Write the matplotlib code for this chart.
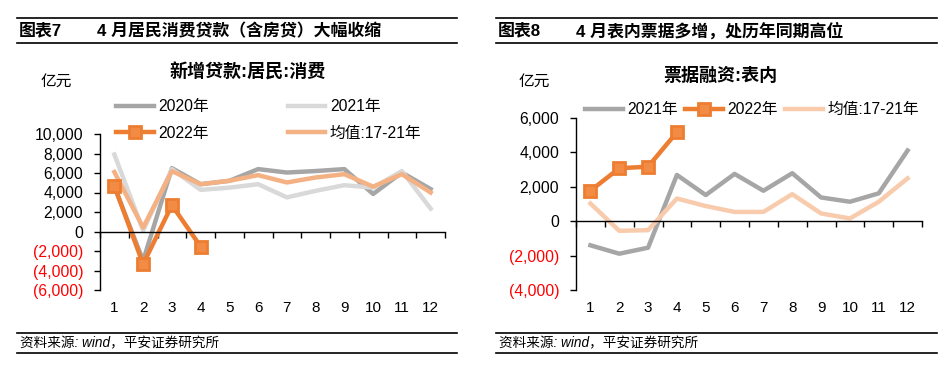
import numpy as np
import matplotlib
matplotlib.use('Agg')
import matplotlib.pyplot as plt
import matplotlib.ticker as ticker
from matplotlib.lines import Line2D

plt.rcParams['font.family'] = ['Liberation Sans', 'Noto Sans CJK SC']
plt.rcParams['axes.unicode_minus'] = False

months = list(range(1, 13))
month_labels = [str(m) for m in months]

# 新增贷款:居民:消费 (亿元)
consumer_2020 = [4600, -3000, 6500, 4850, 5200, 6400, 6050, 6200, 6400, 3850, 6050, 4350]
consumer_2021 = [7900, 100, 6400, 4270, 4500, 4850, 3500, 4170, 4750, 4500, 6200, 2350]
consumer_2022 = [4680, -3350, 2700, -1540]
consumer_avg = [6100, 400, 6200, 4850, 5200, 5780, 5030, 5540, 5880, 4600, 5880, 4000]

# 票据融资:表内 (亿元)
bill_2021 = [-1400, -1890, -1540, 2690, 1520, 2750, 1770, 2790, 1380, 1130, 1620, 4110]
bill_2022 = [1770, 3080, 3170, 5180]
bill_avg = [1030, -560, -520, 1320, 880, 540, 540, 1570, 450, 160, 1130, 2490]

DARK_GRAY = '#A6A6A6'
LIGHT_GRAY = '#D9D9D9'
ORANGE = '#ED7D31'
LIGHT_ORANGE = '#F4B183'
PALE_ORANGE = '#F8CBAD'

W, H = 950, 366
fig = plt.figure(figsize=(W / 100, H / 100), dpi=100)


def fx(px):
    return px / W


def fy(py):
    return 1 - py / H


def fmt(v, pos):
    if v < 0:
        return '({:,.0f})'.format(abs(v))
    return '{:,.0f}'.format(v)


def setup_axes(ax, ylo, yhi):
    ax.set_xlim(0.5, 12.5)
    ax.set_ylim(ylo, yhi)
    ax.yaxis.set_major_locator(ticker.MultipleLocator(2000))
    ax.yaxis.set_major_formatter(ticker.FuncFormatter(fmt))
    for s in ['top', 'right']:
        ax.spines[s].set_visible(False)
    ax.spines['bottom'].set_position(('data', 0))
    ax.spines['left'].set_linewidth(1.0)
    ax.spines['bottom'].set_linewidth(1.0)
    ax.set_xticks(np.arange(0.5, 13, 1))
    ax.tick_params(axis='x', direction='out', length=4, width=1, labelbottom=False)
    ax.tick_params(axis='y', direction='out', length=4, width=1, labelsize=11.3, pad=8)
    for lab, v in zip(ax.get_yticklabels(), ax.get_yticks()):
        if v < 0:
            lab.set_color('#FF0000')
    trans = matplotlib.transforms.blended_transform_factory(ax.transData, fig.transFigure)
    for m, lab in zip(months, month_labels):
        ax.text(m, fy(308), lab, transform=trans, ha='center', va='center', fontsize=11)
    ax.set_facecolor('none')


def header(x0, x1, tag, title):
    fig.add_artist(Line2D([fx(x0), fx(x1)], [fy(18), fy(18)], color='black', lw=1.2))
    fig.add_artist(Line2D([fx(x0), fx(x1)], [fy(43), fy(43)], color='black', lw=1.2))
    fig.text(fx(x0 + 2), fy(31), tag, fontsize=12.2, fontweight='bold', va='center')
    fig.text(fx(x0 + 80), fy(31), title, fontsize=12.2, fontweight='bold', va='center')
    fig.add_artist(Line2D([fx(x0), fx(x1)], [fy(333), fy(333)], color='black', lw=1.2))
    fig.add_artist(Line2D([fx(x0), fx(x1)], [fy(353), fy(353)], color='black', lw=1.2))
    fig.text(fx(x0 + 3), fy(343), '资料来源: wind，平安证券研究所', fontsize=9.8,
             style='italic', va='center')


header(17, 457, '图表7', '4 月居民消费贷款（含房贷）大幅收缩')
header(496, 937, '图表8', '4 月表内票据多增，处历年同期高位')

mk = dict(marker='s', markersize=8, markerfacecolor='#F28C45', markeredgecolor=ORANGE,
          markeredgewidth=2)

# Left chart
ax1 = fig.add_axes([fx(100), fy(290), fx(345), (290 - 134) / H])
setup_axes(ax1, -6000, 10000)
l20, = ax1.plot(months, consumer_2020, color=DARK_GRAY, lw=3.2, label='2020年')
l21, = ax1.plot(months, consumer_2021, color=LIGHT_GRAY, lw=3.2, label='2021年')
lav, = ax1.plot(months, consumer_avg, color=LIGHT_ORANGE, lw=3.2, label='均值:17-21年')
l22, = ax1.plot(months[:len(consumer_2022)], consumer_2022, color=ORANGE, lw=3.2,
                label='2022年', **mk)
fig.text(fx(248), fy(73), '新增贷款:居民:消费', fontsize=13, fontweight='bold',
         ha='center', va='center')
fig.text(fx(56), fy(81), '亿元', fontsize=11.3, ha='center', va='center')
fig.legend(handles=[l20, l22, l21, lav], ncol=2, frameon=False, fontsize=11.3,
           loc='upper left', bbox_to_anchor=(fx(116), fy(99)), borderpad=0,
           borderaxespad=0, handlelength=2.4, handletextpad=0.3, columnspacing=5.0,
           labelspacing=0.75)

# Right chart
ax2 = fig.add_axes([fx(576), fy(290), fx(346), (290 - 118) / H])
setup_axes(ax2, -4000, 6000)
r21, = ax2.plot(months, bill_2021, color=DARK_GRAY, lw=3.2, label='2021年')
rav, = ax2.plot(months, bill_avg, color=PALE_ORANGE, lw=3.2, label='均值:17-21年')
r22, = ax2.plot(months[:len(bill_2022)], bill_2022, color=ORANGE, lw=3.2,
                label='2022年', **mk)
fig.text(fx(720), fy(76), '票据融资:表内', fontsize=13, fontweight='bold',
         ha='center', va='center')
fig.text(fx(534), fy(81), '亿元', fontsize=11.3, ha='center', va='center')
fig.legend(handles=[r21, r22, rav], ncol=3, frameon=False, fontsize=11.3,
           loc='upper left', bbox_to_anchor=(fx(585), fy(102)), borderpad=0,
           borderaxespad=0, handlelength=2.4, handletextpad=0.3, columnspacing=0.45)

fig.savefig('out.png', dpi=100)
